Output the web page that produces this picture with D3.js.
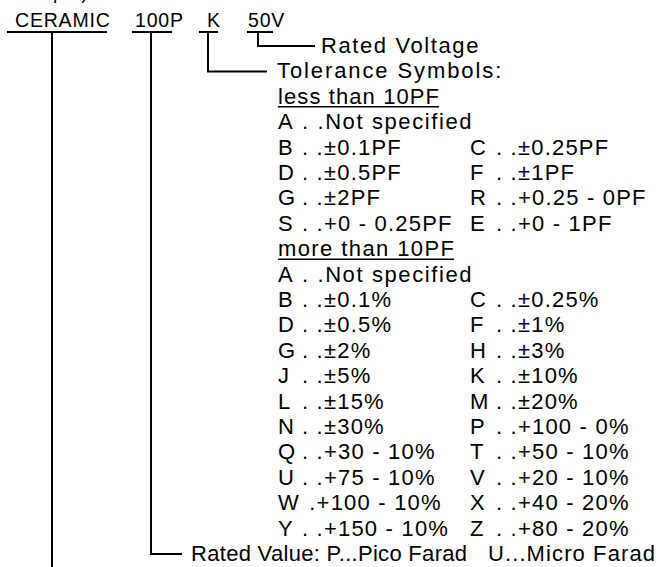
<!DOCTYPE html>
<html>
<head>
<meta charset="utf-8">
<script src="https://cdn.jsdelivr.net/npm/d3@7"></script>
<style>
  html, body { margin: 0; padding: 0; background: #fff; }
  svg text { font-family: "Liberation Sans", Arial, sans-serif; white-space: pre; fill: #000; }
</style>
</head>
<body>
<svg id="chart" width="659" height="567"></svg>
<script>
// ---- data ----
const partLabels = ["CERAMIC", "100P", "K", "50V"];
const headerText = "(Example)";
const voltageLabel = "Rated Voltage";
const toleranceTitle = "Tolerance Symbols:";
const lessTitle = "less than 10PF";
const moreTitle = "more than 10PF";
const lessCodes  = [["A", ". .Not specified"], ["B", ". .±0.1PF", "C", ". .±0.25PF"], ["D", ". .±0.5PF", "F", ". .±1PF"], ["G", ". .±2PF", "R", ". .+0.25 - 0PF"], ["S", ". .+0 - 0.25PF", "E", ". .+0 - 1PF"]];
const moreCodes  = [["A", ". .Not specified"], ["B", ". .±0.1%", "C", ". .±0.25%"], ["D", ". .±0.5%", "F", ". .±1%"], ["G", ". .±2%", "H", ". .±3%"], ["J", ". .±5%", "K", ". .±10%"], ["L", ". .±15%", "M", ". .±20%"], ["N", ". .±30%", "P", ". .+100 - 0%"], ["Q", ". .+30 - 10%", "T", ". .+50 - 10%"], ["U", ". .+75 - 10%", "V", ". .+20 - 10%"], ["W", " .+100 - 10%", "X", ". .+40 - 20%"], ["Y", ". .+150 - 10%", "Z", ". .+80 - 20%"]];
const valueLabels = ["Rated Value: P...Pico Farad", "U...Micro Farad"];

// ---- layout ----
const svg = d3.select("#chart");
const W = 659, H = 567;
const nLines = 21; // 0: Rated Voltage ... 20: Rated Value
const y = d3.scaleLinear().domain([0, nLines - 1]).range([53, 561]);
const connOff = 7;
const fs = 22, ls = 1.2;
const colLetter = [278, 470];
const colRest = [302, 496];

// header, mostly above the picture's top edge
svg.append("text").attr("x", -7).attr("y", -1).attr("font-size", 19).attr("letter-spacing", 1).text(headerText);

// part labels
const partX = [15, 135, 207, 248];
const underl = [[7, 107], [132, 172], [199, 218], [247, 273]];
const ulY = 32;
svg.selectAll("text.part").data(partLabels).join("text").attr("class", "part")
  .attr("x", (d, i) => partX[i]).attr("y", 27).attr("font-size", 19.5).attr("letter-spacing", 0.8).text(d => d);
svg.selectAll("line.ul").data(underl).join("line").attr("class", "ul")
  .attr("x1", d => d[0]).attr("x2", d => d[1]).attr("y1", ulY).attr("y2", ulY)
  .attr("stroke", "#000").attr("stroke-width", 2);

// connectors
const lineGen = d3.line();
const conns = [
  { x: 52, end: H + 2, to: null },
  { x: 151, end: y(20) - connOff, to: 182 },
  { x: 208, end: y(1) - connOff, to: 267 },
  { x: 258, end: y(0) - connOff, to: 315 }
];
conns.forEach(c => {
  const pts = [[c.x, ulY], [c.x, c.end]];
  if (c.to) pts.push([c.to, c.end]);
  svg.append("path").attr("d", lineGen(pts)).attr("fill", "none")
    .attr("stroke", "#000").attr("stroke-width", 2);
});

function label(x, i, t, spacing) {
  return svg.append("text").attr("x", x).attr("y", y(i)).attr("font-size", fs)
    .attr("letter-spacing", spacing === undefined ? ls : spacing).text(t);
}
label(321, 0, voltageLabel, 1.6);
label(277, 1, toleranceTitle, 1.9);

function titleU(i, t, sp) {
  const el = label(278, i, t, sp);
  const w = el.node().getComputedTextLength();
  svg.append("line").attr("x1", 278).attr("x2", 278 + w - sp).attr("y1", y(i) + 3).attr("y2", y(i) + 3)
    .attr("stroke", "#000").attr("stroke-width", 1.5);
}
titleU(2, lessTitle, 1.1);
function codes(arr, start) {
  arr.forEach((r, k) => {
    const i = start + k;
    label(colLetter[0], i, r[0]);
    label(colRest[0], i, r[1], r[1].includes("Not") ? 1.6 : ls);
    if (r.length > 2) {
      label(colLetter[1], i, r[2]);
      label(colRest[1], i, r[3]);
    }
  });
}
codes(lessCodes, 3);
titleU(8, moreTitle, 1.4);
codes(moreCodes, 9);
label(191, 20, valueLabels[0], 0.3);
label(488, 20, valueLabels[1], 1.1);
</script>
</body>
</html>
